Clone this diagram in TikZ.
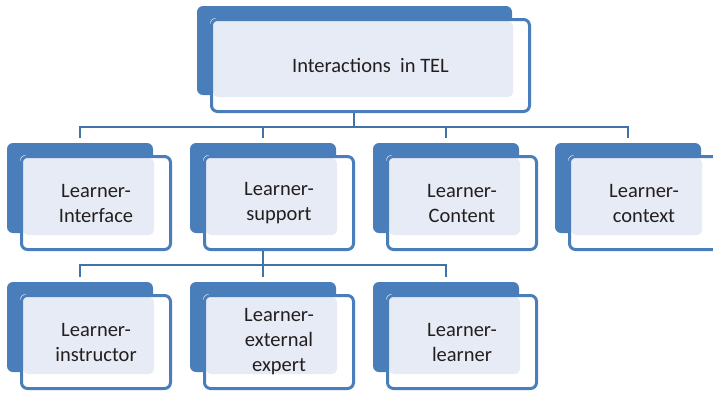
\documentclass[tikz,border=0pt]{standalone}
\usepackage{fontspec}
\setmainfont{Carlito}
\usetikzlibrary{calc,backgrounds}

\begin{document}
\begin{tikzpicture}[x=1pt, y=-1pt,
        every node/.style={font=\fontsize{20.5}{25}\selectfont, text=telgray, align=center},
        frontbox/.style={draw=telblue, line width=3pt, rounded corners=6pt, minimum width=149pt, minimum height=93pt, inner sep=0pt},
        link/.style={draw=linkblue, line width=2.6pt}]
        \definecolor{telblue}{RGB}{74,126,187}
        \definecolor{linkblue}{RGB}{66,114,168}
        \definecolor{telpale}{RGB}{231,235,245}
        \definecolor{telgray}{RGB}{35,31,32}

        \useasboundingbox (0,0) rectangle (713,392);

        % Top box
        \node[frontbox, minimum width=318pt, minimum height=92pt] (tel) at (370.5,65.5) {Interactions\ \ in TEL};

        % Second row
        \node[frontbox] (interface) at (96,203) {Learner-\\Interface};
        \node[frontbox] (support) at (279,203) {Learner-\\support};
        \node[frontbox] (content) at (462,203) {Learner-\\Content};
        \node[frontbox] (context) at (644,203) {Learner-\\context};

        % Third row
        \node[frontbox] (instructor) at (96,342) {Learner-\\instructor};
        \node[frontbox] (expert) at (279,342) {Learner-\\external\\expert};
        \node[frontbox] (learner) at (462,342) {Learner-\\learner};

        % Back tabs, white frames and pale overlap
        \begin{scope}[on background layer]
            \foreach \n in {tel,interface,support,content,context,instructor,expert,learner} {
                \fill[telblue, rounded corners=6pt] ($(\n.north west)+(-13,-12)$) rectangle ($(\n.south east)+(-19,-18)$);
                \fill[white, rounded corners=6pt] (\n.north west) rectangle (\n.south east);
                \fill[telpale, rounded corners=5pt] ($(\n.north west)+(3,3)$) rectangle ($(\n.south east)+(-18,-16)$);
            }
        \end{scope}

        % Links from the top box
        \coordinate (telout) at ($(tel.south)+(-16.5,0)$);
        \coordinate (bus) at ($(telout)+(0,14)$);
        \draw[link] (telout) -- (bus);
        \foreach \n in {interface,support,content,context} {
            \coordinate (\n-top) at ($(\n.north)+(-16,-17)$);
            \draw[link] (bus) -| (\n-top);
        }

        % Links from Learner-support
        \coordinate (supportout) at ($(support.south)+(-16,0)$);
        \coordinate (subbus) at ($(supportout)+(0,14)$);
        \draw[link] (supportout) -- (subbus);
        \foreach \n in {instructor,expert,learner} {
            \coordinate (\n-top) at ($(\n.north)+(-16,-17)$);
            \draw[link] (subbus) -| (\n-top);
        }
\end{tikzpicture}
\end{document}
